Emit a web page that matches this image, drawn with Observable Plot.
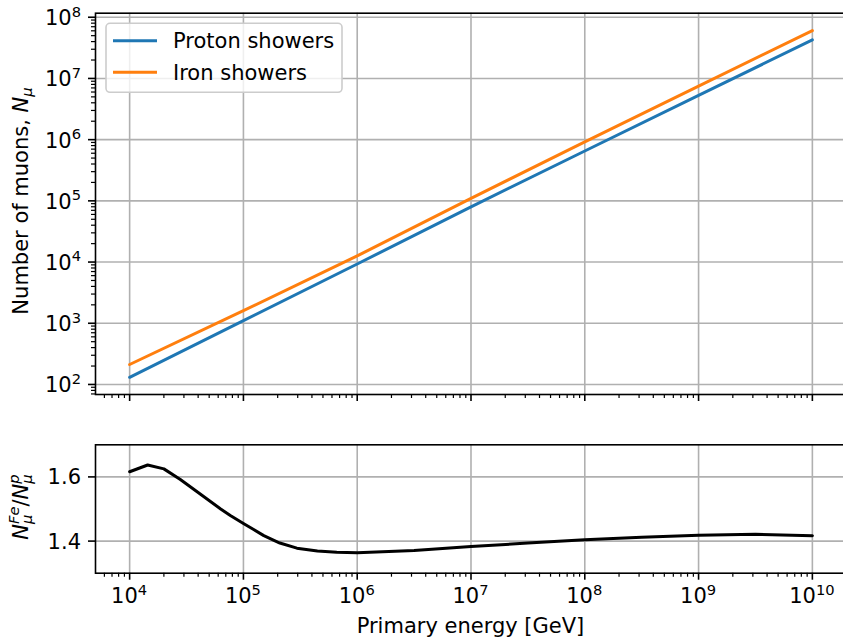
<!DOCTYPE html>
<html>
<head>
<meta charset="utf-8">
<script src="https://cdn.jsdelivr.net/npm/d3@7"></script>
<script src="https://cdn.jsdelivr.net/npm/@observablehq/plot@0.6"></script>
<style>
  html, body { margin: 0; padding: 0; background: #fff; overflow: hidden; }
  #chart { position: relative; width: 843px; height: 640px; font-family: "DejaVu Sans", sans-serif; }
  #chart svg { display: block; }
</style>
</head>
<body>
<div id="chart"></div>
<script>
// Muon number at ground vs. primary energy (GeV)
const energyDecades = [1e4, 1e5, 1e6, 1e7, 1e8, 1e9, 1e10];
const protonMuons = [131, 1107, 9290, 79800, 653000, 5280000, 42700000];
const ironMuons = [212, 1608, 12600, 110000, 917000, 7490000, 60500000];

// Iron / proton muon-number ratio
const ratioEnergy = [1e4, 1.44e4, 2e4, 2.79e4, 4.17e4, 6.31e4, 7.67e4, 1e5, 1.23e5, 1.51e5, 2.09e5,
                     2.95e5, 4.47e5, 6.61e5, 1e6, 3.16e6, 1e7, 3.16e7, 1e8, 3.16e8, 1e9, 3.16e9, 1e10];
const ratioValue = [1.616, 1.637, 1.625, 1.592, 1.547, 1.500, 1.480, 1.455, 1.436, 1.417, 1.394,
                    1.378, 1.369, 1.365, 1.364, 1.371, 1.383, 1.394, 1.404, 1.412, 1.418, 1.421, 1.417];

// Series names and tick values
const seriesNames = ["Proton showers", "Iron showers"];
const seriesColors = ["#1f77b4", "#ff7f0e"];
const xMajorExp = [4, 5, 6, 7, 8, 9, 10];
const yMajorExp = [2, 3, 4, 5, 6, 7, 8];
const ratioTicks = [1.4, 1.6];
const ratioTickLabels = ["1.4", "1.6"];
const xTitle = "Primary energy [GeV]";

const protonRows = energyDecades.map((e, i) => ({energy: e, muons: protonMuons[i]}));
const ironRows = energyDecades.map((e, i) => ({energy: e, muons: ironMuons[i]}));
const ratioRows = ratioEnergy.map((e, i) => ({energy: e, ratio: ratioValue[i]}));

const W = 843;
const FS = 21;     // base font size
const SS = 14.7;   // script font size
const xDomain = [10 ** 3.7, 10 ** 10.3];
const yDomain = [10 ** 1.836, 10 ** 8.066];
const FONT = "DejaVu Sans";
const GRID = {stroke: "#b0b0b0", strokeOpacity: 1, strokeWidth: 1.6};

const inside = ([a, b]) => v => v >= a * 0.9999 && v <= b * 1.0001;
function minorLog(domain, lo, hi) {
  const out = [];
  for (let d = lo; d <= hi; d++) for (let m = 2; m <= 9; m++) out.push(m * 10 ** d);
  return out.filter(inside(domain));
}
const xMajor = xMajorExp.map(e => 10 ** e);
const yMajor = yMajorExp.map(e => 10 ** e);
const xMinor = minorLog(xDomain, 3, 10);
const yMinor = minorLog(yDomain, 1, 8);

const tickStyle = {fill: "none", label: null, stroke: "black", strokeOpacity: 1};

// Upper panel: muon numbers
const topPlot = Plot.plot({
  width: W, height: 420,
  marginLeft: 95, marginRight: -3, marginTop: 12.7, marginBottom: 26,
  style: {fontFamily: FONT, fontSize: FS + "px", background: "white", color: "black"},
  x: {type: "log", domain: xDomain},
  y: {type: "log", domain: yDomain},
  marks: [
    Plot.gridX(xMajor, GRID),
    Plot.gridY(yMajor, GRID),
    Plot.axisX(xMinor, {...tickStyle, anchor: "bottom", tickSize: 4, strokeWidth: 1.2}),
    Plot.axisX(xMajor, {...tickStyle, anchor: "bottom", tickSize: 7, strokeWidth: 1.6}),
    Plot.axisY(yMinor, {...tickStyle, anchor: "left", tickSize: 4, strokeWidth: 1.2}),
    Plot.axisY(yMajor, {...tickStyle, anchor: "left", tickSize: 7, strokeWidth: 1.6}),
    Plot.line(protonRows, {x: "energy", y: "muons", stroke: seriesColors[0], strokeWidth: 3}),
    Plot.line(ironRows, {x: "energy", y: "muons", stroke: seriesColors[1], strokeWidth: 3}),
    Plot.frame({stroke: "black", strokeWidth: 1.6})
  ]
});

// Lower panel: iron/proton ratio
const botPlot = Plot.plot({
  width: W, height: 220,
  marginLeft: 95, marginRight: -3, marginTop: 24.3, marginBottom: 67.3,
  style: {fontFamily: FONT, fontSize: FS + "px", background: "white", color: "black"},
  x: {type: "log", domain: xDomain},
  y: {type: "linear", domain: [1.3, 1.7]},
  marks: [
    Plot.gridX(xMajor, GRID),
    Plot.gridY(ratioTicks, GRID),
    Plot.axisX(xMinor, {...tickStyle, anchor: "bottom", tickSize: 4, strokeWidth: 1.2}),
    Plot.axisX(xMajor, {...tickStyle, anchor: "bottom", tickSize: 7, strokeWidth: 1.6}),
    Plot.axisY(ratioTicks, {...tickStyle, anchor: "left", tickSize: 7, strokeWidth: 1.6}),
    Plot.line(ratioRows, {x: "energy", y: "ratio", stroke: "black", strokeWidth: 3}),
    Plot.frame({stroke: "black", strokeWidth: 1.6})
  ]
});

const chart = document.getElementById("chart");
chart.append(topPlot, botPlot);

// Text with sub/superscripts laid out piece by piece
function mathText(parent, pieces, {x, y, anchor = "start", rotate = 0, size = FS}) {
  const g = parent.append("g")
    .attr("transform", `translate(${x},${y}) rotate(${rotate})`)
    .attr("font-family", FONT)
    .attr("text-anchor", "start");
  const inner = g.append("g");
  let cx = 0;
  for (const p of pieces) {
    const group = Array.isArray(p) ? p : [p];
    let w = 0;
    for (const q of group) {
      const t = inner.append("text")
        .attr("x", cx)
        .attr("y", q.shift || 0)
        .attr("font-size", q.size || size)
        .attr("font-style", q.italic ? "italic" : "normal")
        .attr("text-anchor", "start")
        .attr("fill", "black")
        .text(q.t);
      w = Math.max(w, t.node().getComputedTextLength());
    }
    cx += w;
  }
  const off = anchor === "end" ? -cx : anchor === "middle" ? -cx / 2 : 0;
  inner.attr("transform", `translate(${off},0)`);
  return g;
}
const power = e => [{t: "10"}, {t: String(e), size: SS, shift: -8.6}];

const topSvg = d3.select(topPlot);
const botSvg = d3.select(botPlot);
const xs = topPlot.scale("x");
const ys = topPlot.scale("y");
const rs = botPlot.scale("y");

// Upper panel y tick labels
yMajorExp.forEach(e => {
  mathText(topSvg, power(e), {x: 81, y: ys.apply(10 ** e) + 8.5, anchor: "end"});
});

// Upper panel y label
mathText(topSvg, [
  {t: "Number of muons, "},
  {t: "N", italic: true},
  {t: "μ", italic: true, size: SS, shift: 4}
], {x: 27.5, y: 201, anchor: "middle", rotate: -90});

// Legend
const leg = topSvg.append("g").attr("font-family", FONT).attr("text-anchor", "start");
leg.append("rect")
  .attr("x", 106).attr("y", 23.3).attr("width", 236).attr("height", 69).attr("rx", 4)
  .attr("fill", "white").attr("fill-opacity", 0.8)
  .attr("stroke", "#cccccc").attr("stroke-width", 1.6);
seriesNames.forEach((name, i) => {
  const cy = 40.7 + i * 31.6;
  leg.append("line")
    .attr("x1", 113).attr("x2", 157).attr("y1", cy).attr("y2", cy)
    .attr("stroke", seriesColors[i]).attr("stroke-width", 3);
  leg.append("text")
    .attr("x", 173).attr("y", cy + 7.6)
    .attr("font-size", FS).attr("fill", "black")
    .text(name);
});

// Lower panel y tick labels
ratioTicks.forEach((v, i) => {
  mathText(botSvg, [{t: ratioTickLabels[i]}], {x: 81, y: rs.apply(v) + 8, anchor: "end"});
});

// Lower panel y label
mathText(botSvg, [
  {t: "N", italic: true},
  [{t: "Fe", italic: true, size: SS, shift: -9}, {t: "μ", italic: true, size: SS, shift: 4}],
  {t: "/"},
  {t: "N", italic: true},
  [{t: "p", italic: true, size: SS, shift: -9}, {t: "μ", italic: true, size: SS, shift: 4}]
], {x: 28, y: 87, anchor: "middle", rotate: -90});

// Shared x tick labels and title
xMajorExp.forEach(e => {
  mathText(botSvg, power(e), {x: xs.apply(10 ** e), y: 183.3, anchor: "middle"});
});
mathText(botSvg, [{t: xTitle}], {x: 470.5, y: 213, anchor: "middle"});
</script>
</body>
</html>
